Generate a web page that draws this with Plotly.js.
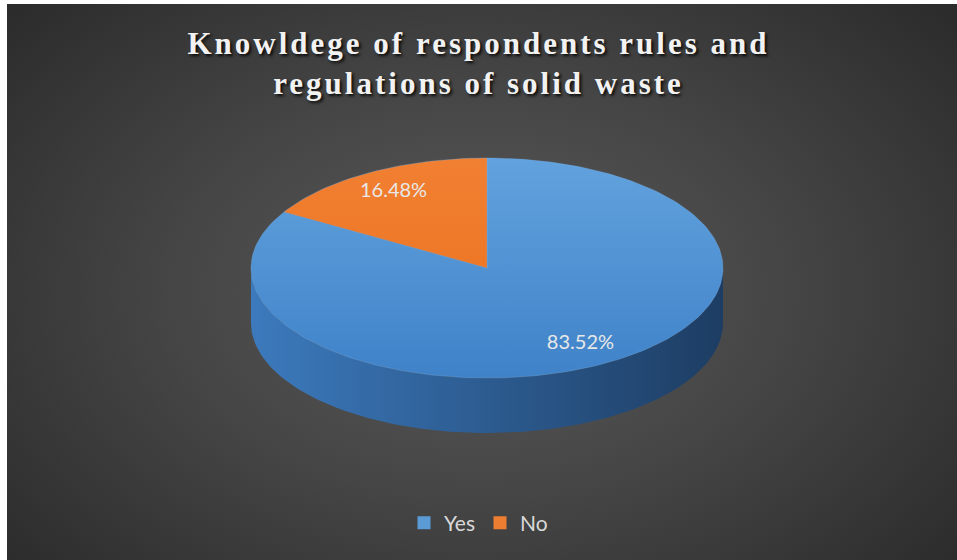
<!DOCTYPE html>
<html><head><meta charset="utf-8">
<script src="https://cdn.plot.ly/plotly-3.0.1.min.js"></script>
<style>
html,body{margin:0;padding:0;background:#fff;}
#wrap{position:relative;width:957px;height:560px;overflow:hidden;}
#chart{position:absolute;left:0;top:0;width:957px;height:560px;
  background:radial-gradient(ellipse 65% 75% at 50% 52%, #5a5a5a 0%, #454545 50%, #2c2c2c 100%);}
.edgeTop{position:absolute;left:0;top:0;width:957px;height:4px;background:#fff;}
.edgeLeft{position:absolute;left:0;top:0;width:7px;height:560px;background:#fff;}
.gtitle{letter-spacing:3px;}
</style></head>
<body><div id="wrap"><div id="chart"></div><div class="edgeTop"></div><div class="edgeLeft"></div></div>
<script>
// ---- data ----
const categories = ['Yes', 'No'];
const shares = [83.52, 16.48];
const valueLabels = ['83.52%', '16.48%'];
const titleText = 'Knowldege of respondents rules and<br>regulations of solid waste';

// ---- style / geometry ----
const W = 957, H = 560;
const CX = 487, CY = 268, RX = 236, RY = 110, DEPTH = 55;
const topColors = [['#62a2de', '#3f82c8'], ['#f28032', '#e86f1c']];
const sideColors = [['#3c7abd', '#1d3d63'], ['#c85f17', '#8a3f0c']];
const legendColors = ['#5b9bd5', '#ed7d31'];
const labelFrac = 0.8;

function pt(theta, dy) {
  const r = theta * Math.PI / 180;
  return [CX + RX * Math.sin(r), CY - RY * Math.cos(r) + (dy || 0)];
}
function arc(a, b, dy) {
  const xs = [], ys = [];
  const n = Math.max(2, Math.ceil(Math.abs(b - a) / 1.5));
  for (let i = 0; i <= n; i++) {
    const p = pt(a + (b - a) * i / n, dy);
    xs.push(p[0]); ys.push(p[1]);
  }
  return [xs, ys];
}

const total = shares.reduce((s, v) => s + v, 0);
const starts = [], ends = [];
let acc = 0;
shares.forEach(v => { starts.push(acc); acc += v / total * 360; ends.push(acc); });

const sideTraces = [], topTraces = [], textX = [], textY = [];
shares.forEach((v, i) => {
  const a0 = starts[i], a1 = ends[i];
  const a = Math.max(a0, 90), b = Math.min(a1, 270);
  if (a < b) {
    const up = arc(a, b, 0), lo = arc(b, a, DEPTH);
    sideTraces.push({
      type: 'scatter', mode: 'lines', x: up[0].concat(lo[0]), y: up[1].concat(lo[1]),
      fill: 'toself', line: {width: 0}, showlegend: false, hoverinfo: 'skip',
      fillgradient: {type: 'horizontal', start: CX - RX, stop: CX + RX,
        colorscale: [[0, sideColors[i][0]], [1, sideColors[i][1]]]}
    });
  }
  const t = arc(a0, a1, 0);
  topTraces.push({
    type: 'scatter', mode: 'lines', x: [CX].concat(t[0], [CX]), y: [CY].concat(t[1], [CY]),
    fill: 'toself', line: {width: 0.6, color: 'rgba(120,180,240,0.5)'}, showlegend: false,
    name: categories[i], hoverinfo: 'name',
    fillgradient: {type: 'vertical', start: CY - RY, stop: CY + RY,
      colorscale: [[0, topColors[i][0]], [1, topColors[i][1]]]}
  });
  const mid = (a0 + a1) / 2 * Math.PI / 180;
  textX.push(CX + RX * labelFrac * Math.sin(mid));
  textY.push(CY - RY * labelFrac * Math.cos(mid));
});

const labelTrace = {
  type: 'scatter', mode: 'text', x: textX, y: textY, text: valueLabels,
  textfont: {family: 'Lato, Open Sans, sans-serif', size: 20, color: '#e8e8e8'},
  showlegend: false, hoverinfo: 'skip'
};
const legendTraces = categories.map((c, i) => ({
  type: 'scatter', mode: 'markers', x: [null], y: [null], name: c,
  marker: {symbol: 'square', size: 13, color: legendColors[i]}
}));

const layout = {
  width: W, height: H,
  margin: {l: 0, r: 0, t: 0, b: 0},
  paper_bgcolor: 'rgba(0,0,0,0)', plot_bgcolor: 'rgba(0,0,0,0)',
  xaxis: {range: [0, W], visible: false, fixedrange: true},
  yaxis: {range: [H, 0], visible: false, fixedrange: true},
  title: {
    text: titleText, x: 0.5, xanchor: 'center', y: 1 - 54 / H, yanchor: 'middle', yref: 'container',
    font: {family: 'Liberation Serif, Times New Roman, serif', size: 31, weight: 'bold', color: '#f2f2f2',
      shadow: '2px 2px 3px rgba(0,0,0,0.85)'}
  },
  legend: {orientation: 'h', x: 0.5, xanchor: 'center', y: 1 - 523 / H, yanchor: 'middle',
    font: {family: 'Lato, Open Sans, sans-serif', size: 21, color: '#d9d9d9'},
    bgcolor: 'rgba(0,0,0,0)', itemwidth: 30, traceorder: 'normal'},
  showlegend: true
};

Plotly.newPlot('chart', sideTraces.concat(topTraces, [labelTrace], legendTraces), layout,
  {staticPlot: true, displayModeBar: false});
</script>
</body></html>
